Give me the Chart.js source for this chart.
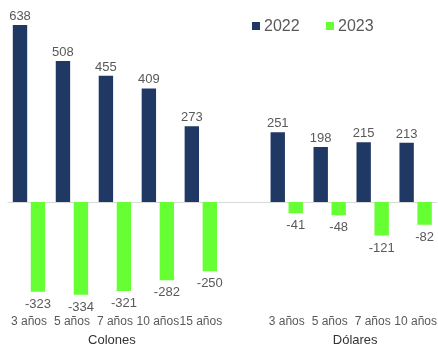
<!DOCTYPE html>
<html>
<head>
<meta charset="utf-8">
<script src="https://cdn.jsdelivr.net/npm/chart.js@4/dist/chart.umd.min.js"></script>
<style>
  html, body { margin: 0; padding: 0; background: #ffffff; }
  #wrap { width: 438px; height: 347px; position: relative; }
</style>
</head>
<body>
<div id="wrap"><canvas id="c"></canvas></div>
<script>
const categories = ['3 años', '5 años', '7 años', '10 años', '15 años', '', '3 años', '5 años', '7 años', '10 años'];
const series2022 = [638, 508, 455, 409, 273, null, 251, 198, 215, 213];
const series2023 = [-323, -334, -321, -282, -250, null, -41, -48, -121, -82];
const seriesNames = ['2022', '2023'];
const groupLabels = ['Colones', 'Dólares'];
const groupRanges = [[0, 4], [6, 9]];

const FONT = '"Liberation Sans", Arial, sans-serif';
const NAVY = '#1F3864';
const GREEN = '#66FF33';
const GRAY = '#595959';

const helpers = {
  id: 'helpers',
  beforeDatasetsDraw(chart) {
    const ctx = chart.ctx;
    const y0 = chart.scales.y.getPixelForValue(0);
    ctx.save();
    ctx.strokeStyle = '#d9d9d9';
    ctx.lineWidth = 1;
    ctx.beginPath();
    ctx.moveTo(chart.chartArea.left, Math.round(y0) + 0.5);
    ctx.lineTo(chart.chartArea.right, Math.round(y0) + 0.5);
    ctx.stroke();
    ctx.restore();
  },
  afterDatasetsDraw(chart) {
    const ctx = chart.ctx;
    ctx.save();
    // value labels
    ctx.font = '13px ' + FONT;
    ctx.fillStyle = GRAY;
    ctx.textAlign = 'center';
    ctx.textBaseline = 'alphabetic';
    chart.data.datasets.forEach((ds, di) => {
      const meta = chart.getDatasetMeta(di);
      meta.data.forEach((bar, i) => {
        const v = ds.data[i];
        if (v === null || v === undefined) return;
        if (v >= 0) ctx.fillText(String(v), bar.x, bar.y - 5);
        else ctx.fillText(String(v), bar.x, bar.y + 16);
      });
    });
    // group labels
    const xs = chart.scales.x;
    ctx.font = '13px ' + FONT;
    ctx.fillStyle = '#333333';
    ctx.textBaseline = 'middle';
    groupLabels.forEach((g, gi) => {
      const [a, b] = groupRanges[gi];
      const cx = (xs.getPixelForValue(a) + xs.getPixelForValue(b)) / 2 + (gi === 0 ? -3 : 4);
      ctx.fillText(g, cx, 340);
    });
    // legend
    ctx.font = '16px ' + FONT;
    ctx.textAlign = 'left';
    ctx.textBaseline = 'middle';
    const colors = [NAVY, GREEN];
    const lx = [252, 326];
    seriesNames.forEach((n, i) => {
      ctx.fillStyle = colors[i];
      ctx.fillRect(lx[i], 22, 8, 8);
      ctx.fillStyle = GRAY;
      ctx.fillText(n, lx[i] + 12, 26.5);
    });
    ctx.restore();
  }
};

new Chart(document.getElementById('c'), {
  type: 'bar',
  data: {
    labels: categories,
    datasets: [
      { label: seriesNames[0], data: series2022, backgroundColor: NAVY, categoryPercentage: 0.837, barPercentage: 0.8 },
      { label: seriesNames[1], data: series2023, backgroundColor: GREEN, categoryPercentage: 0.837, barPercentage: 0.8 }
    ]
  },
  options: {
    responsive: true,
    maintainAspectRatio: false,
    animation: false,
    layout: { padding: { left: 7.5, right: 0.5, top: 7.7, bottom: 17.6 } },
    plugins: { legend: { display: false }, tooltip: { enabled: false } },
    scales: {
      x: {
        grid: { display: false, drawTicks: false, tickLength: 0 },
        border: { display: false },
        ticks: {
          autoSkip: false, maxRotation: 0, minRotation: 0, padding: 1,
          color: GRAY, font: { family: FONT, size: 12 }
        }
      },
      y: { display: false, min: -400, max: 700 }
    }
  },
  plugins: [helpers]
});
</script>
</body>
</html>
